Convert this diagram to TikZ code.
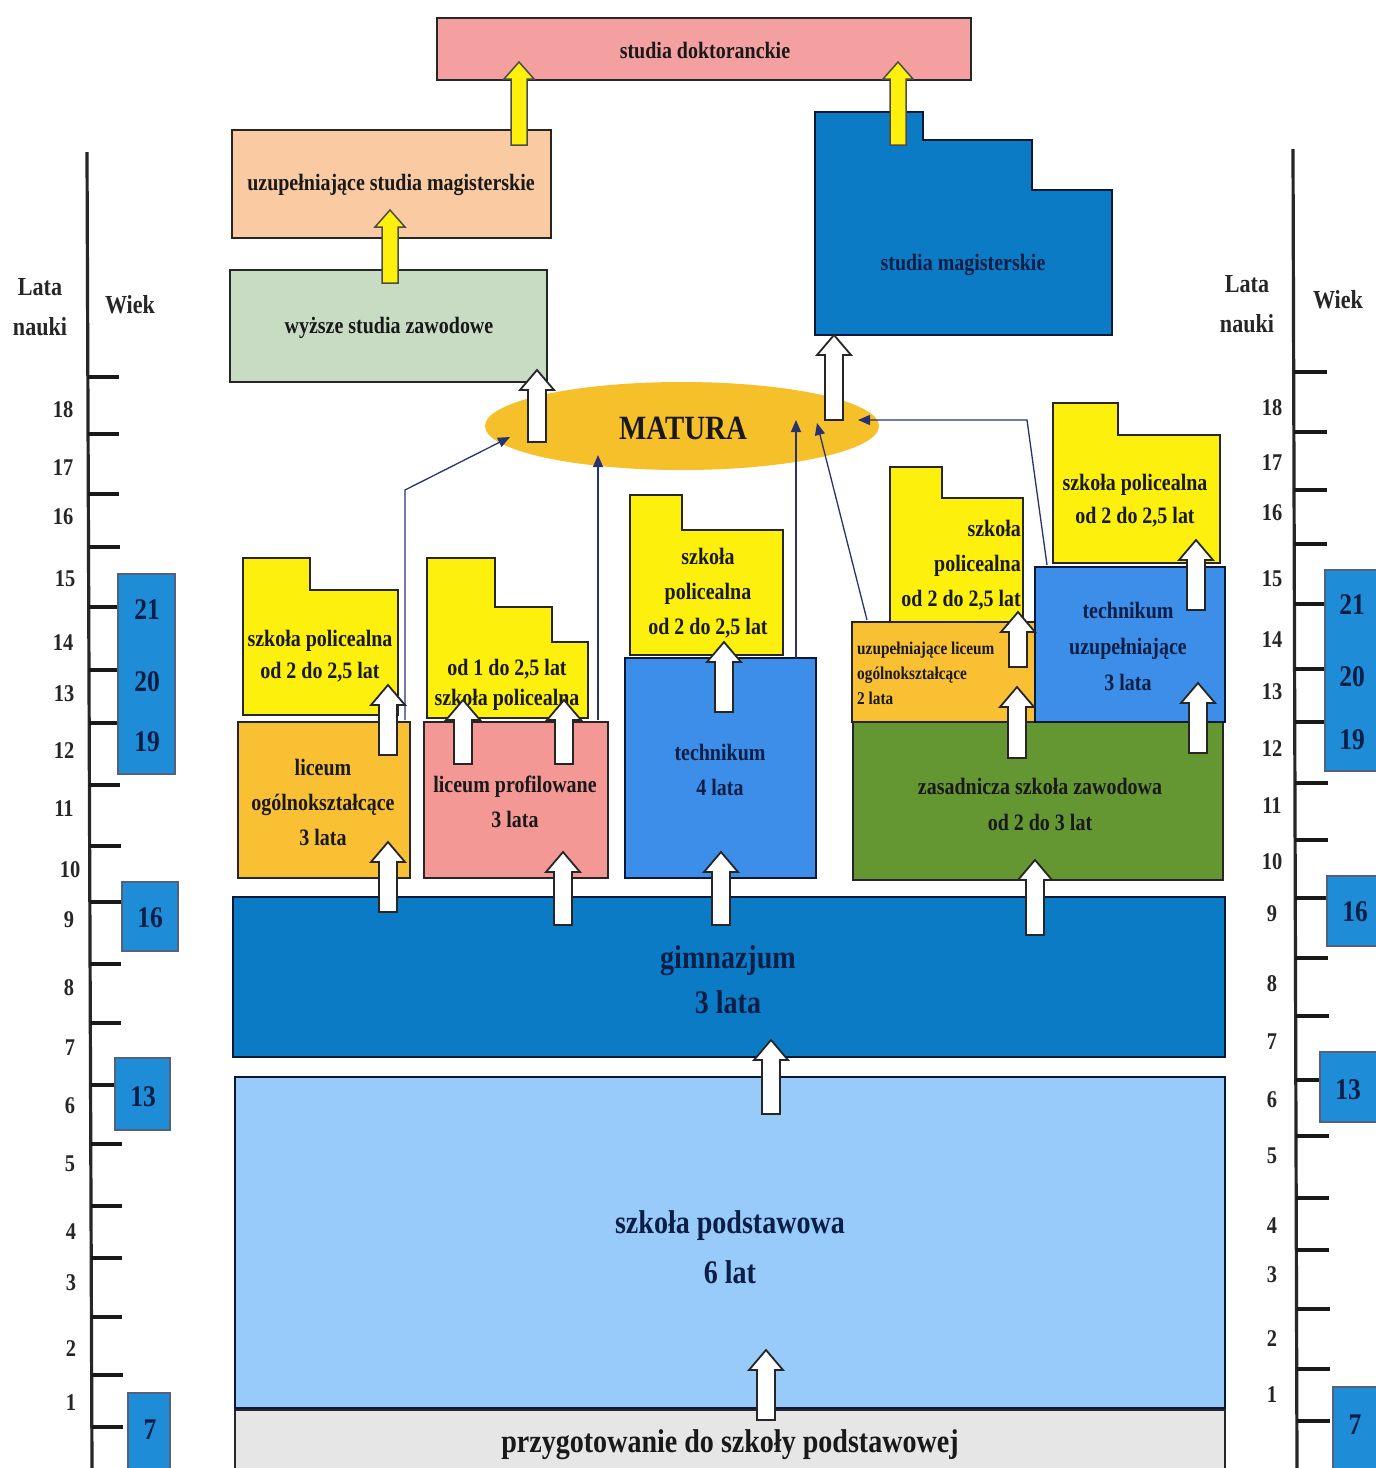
\documentclass[tikz,border=0pt]{standalone}
\usepackage{fontspec}
\setmainfont{Liberation Serif}
\newfontfamily\cf[FakeStretch=0.85]{Liberation Serif}
\usetikzlibrary{arrows.meta}
\definecolor{gimblue}{RGB}{12,123,198}
\definecolor{techblue}{RGB}{60,142,232}
\definecolor{podblue}{RGB}{152,202,250}
\definecolor{agebox}{RGB}{30,140,214}
\definecolor{pinkbox}{RGB}{244,152,150}
\definecolor{doktpink}{RGB}{245,160,160}
\definecolor{peach}{RGB}{250,202,162}
\definecolor{sage}{RGB}{200,220,196}
\definecolor{ylw}{RGB}{252,240,12}
\definecolor{orng}{RGB}{249,192,52}
\definecolor{matura}{RGB}{245,192,42}
\definecolor{grn}{RGB}{100,150,50}
\definecolor{prep}{RGB}{230,230,230}
\definecolor{navy}{RGB}{40,50,110}
\definecolor{inkblue}{RGB}{10,30,70}
\tikzset{
  box/.style={draw=black!85, line width=2pt},
  bluebox/.style={draw=inkblue!80!black, line width=2pt},
  agefill/.style={fill=agebox, draw=inkblue!70, line width=1.2pt},
  fs/.style 2 args={font=\cf\bfseries\fontsize{#1}{#2}\selectfont},
  txt/.style={align=center, inner sep=0pt, text=black!90},
  btxt/.style={align=center, inner sep=0pt, text=inkblue},
  thin/.style={draw=navy, line width=1.3pt, -{Triangle[length=12pt,width=10pt]}},
  warrow/.style={draw=black!85, line width=1.8pt, fill=white},
  yarrow/.style={draw=black!70, line width=1.5pt, fill=ylw},
  scl/.style={line width=3.2pt, draw=black!85},
  tickmark/.style={line width=3.8pt, draw=black!90},
  num/.style={fs={24}{28}, inner sep=0pt, text=black!85},
  agenum/.style={fs={30}{34}, inner sep=0pt, text=inkblue}
}
% block arrow: x, y bottom, y tip, style
\newcommand\blockarr[4]{%
  \draw[#4] ({#1-9},{#2}) -- ({#1-9},{#3+20}) -- ({#1-17},{#3+20}) -- ({#1},{#3})
    -- ({#1+17},{#3+20}) -- ({#1+9},{#3+20}) -- ({#1+9},{#2}) -- cycle;}
\newcommand\yblockarr[3]{%
  \draw[yarrow] ({#1-8},{#2}) -- ({#1-8},{#3+17}) -- ({#1-15},{#3+17}) -- ({#1},{#3})
    -- ({#1+15},{#3+17}) -- ({#1+8},{#3+17}) -- ({#1+8},{#2}) -- cycle;}
\begin{document}
\begin{tikzpicture}[x=1pt,y=-1pt]
\useasboundingbox (0,0) rectangle (1376,1468);
\fill[white] (0,0) rectangle (1376,1468);

% ---------- scales ----------
\draw[scl] (87,152) -- (92,1468);
\foreach \y in {377,434,494,547,607,670,723,785,846,902,964,1023,1085,1144,1206,1258,1317,1375,1427}
  \draw[tickmark] ({87+5*(\y-152)/1316},\y) -- ({118+5*(\y-152)/1316},\y);
\foreach \n/\y/\x in {18/410/63,17/468/63,16/517/63,15/579/65,14/643/63,13/694/64,12/751/64,11/809/64,10/870/70,9/920/69,8/988/69,7/1048/70,6/1106/70,5/1164/70,4/1232/71,3/1283/71,2/1349/71,1/1403/71}
  \node[num] (ln\n) at (\x,\y) {\n};
\node[fs={26}{40}, txt, text=black!85] (llata) at (40,307) {Lata\\nauki};
\node[fs={26}{32}, txt, text=black!85] (lwiek) at (130,305) {Wiek};

\draw[scl] (1293,149) -- (1297,1468);
\foreach \y in {372,432,490,544,604,669,722,783,840,898,958,1016,1080,1136,1198,1250,1309,1369,1421}
  \draw[tickmark] ({1293+4*(\y-149)/1319},\y) -- ({1326+4*(\y-149)/1319},\y);
\foreach \n/\y in {18/408,17/463,16/513,15/579,14/640,13/692,12/749,11/806,10/862,9/914,8/984,7/1042,6/1100,5/1156,4/1226,3/1275,2/1339,1/1395}
  \node[num] (rn\n) at (1272,\y) {\n};
\node[fs={26}{40}, txt, text=black!85] (rlata) at (1247,304) {Lata\\nauki};
\node[fs={26}{32}, txt, text=black!85] (rwiek) at (1338,300) {Wiek};

% age boxes
\draw[agefill] (118,574) rectangle (175,774);
\node[agenum] (la21) at (147,610) {21};
\node[agenum] (la20) at (147,682) {20};
\node[agenum] (la19) at (147,742) {19};
\draw[agefill] (122,882) rectangle (178,951);
\node[agenum] (la16) at (150,918) {16};
\draw[agefill] (115,1058) rectangle (170,1130);
\node[agenum] (la13) at (143,1097) {13};
\draw[agefill] (128,1393) rectangle (170,1470);
\node[agenum] (la7) at (150,1430) {7};

\draw[agefill] (1325,570) rectangle (1378,771);
\node[agenum] (ra21) at (1352,605) {21};
\node[agenum] (ra20) at (1352,677) {20};
\node[agenum] (ra19) at (1352,740) {19};
\draw[agefill] (1327,876) rectangle (1378,946);
\node[agenum] (ra16) at (1355,912) {16};
\draw[agefill] (1320,1052) rectangle (1378,1122);
\node[agenum] (ra13) at (1348,1090) {13};
\draw[agefill] (1333,1387) rectangle (1378,1470);
\node[agenum] (ra7) at (1355,1425) {7};

% ---------- bottom levels ----------
\fill[prep] (235,1410) rectangle (1225,1468);
\draw[box] (235,1468) -- (235,1410) -- (1225,1410) -- (1225,1468);
\node[fs={33}{40}, txt] (prep) at (730,1445) {przygotowanie do szkoły podstawowej};

\draw[bluebox, fill=podblue] (235,1077) rectangle (1225,1408);
\node[fs={33}{50}, btxt] (pod) at (730,1247) {szkoła podstawowa\\6 lat};

\draw[bluebox, fill=gimblue] (233,897) rectangle (1225,1057);
\node[fs={33}{45}, btxt] (gim) at (728,980) {gimnazjum\\3 lata};

% ---------- secondary ----------
\draw[box, fill=orng] (238,722) rectangle (410,878);
\node[fs={23.5}{35}, txt] (lo) at (323,802) {liceum\\ogólnokształcące\\3 lata};

\draw[box, fill=pinkbox] (424,722) rectangle (608,878);
\node[fs={23.5}{35}, txt] (lp) at (515,802) {liceum profilowane\\3 lata};

\draw[bluebox, fill=techblue] (625,658) rectangle (816,878);
\node[fs={23.5}{35}, btxt] (tech) at (720,770) {technikum\\4 lata};

\draw[box, fill=grn] (853,722) rectangle (1223,880);
\node[fs={23.5}{36}, txt] (zsz) at (1040,804) {zasadnicza szkoła zawodowa\\od 2 do 3 lat};

% policealne yellow
\draw[box, fill=ylw] (243,558) -- (310,558) -- (310,590) -- (398,590) -- (398,715) -- (243,715) -- cycle;
\node[fs={23.5}{32}, txt] (pa) at (320,656) {szkoła policealna\\od 2 do 2,5 lat};

\draw[box, fill=ylw] (427,558) -- (495,558) -- (495,607) -- (552,607) -- (552,642) -- (588,642) -- (588,718) -- (427,718) -- cycle;
\node[fs={23.5}{30}, txt] (pb) at (507,685) {od 1 do 2,5 lat\\szkoła policealna};

\draw[box, fill=ylw] (630,495) -- (682,495) -- (682,530) -- (783,530) -- (783,655) -- (630,655) -- cycle;
\node[fs={23.5}{35}, txt] (pc) at (708,593) {szkoła\\policealna\\od 2 do 2,5 lat};

\draw[box, fill=ylw] (890,467) -- (942,467) -- (942,498) -- (1023,498) -- (1023,622) -- (890,622) -- cycle;
\node[fs={23.5}{35}, txt, align=right, anchor=east] (pd) at (1021,565) {szkoła\\policealna\\od 2 do 2,5 lat};

\draw[box, fill=orng] (852,622) rectangle (1035,722);
\node[fs={18}{25}, txt, align=left, anchor=west] (ulo) at (857,673) {uzupełniające liceum\\ogólnokształcące\\2 lata};

\draw[box, fill=ylw] (1053,403) -- (1118,403) -- (1118,435) -- (1220,435) -- (1220,563) -- (1053,563) -- cycle;
\node[fs={23.5}{33}, txt] (pe) at (1135,501) {szkoła policealna\\od 2 do 2,5 lat};

\draw[bluebox, fill=techblue] (1035,567) rectangle (1225,722);
\node[fs={23.5}{36}, btxt] (tu) at (1128,646) {technikum\\uzupełniające\\3 lata};

% ---------- higher ----------
\draw[box, fill=doktpink] (437,18) rectangle (971,80);
\node[fs={23.5}{26}, txt] (dokt) at (705,50) {studia doktoranckie};

\draw[box, fill=peach] (232,130) rectangle (551,238);
\node[fs={23.5}{26}, txt] (usm) at (391,185) {uzupełniające studia magisterskie};

\draw[box, fill=sage] (230,270) rectangle (547,382);
\node[fs={23.5}{26}, txt] (wsz) at (389,328) {wyższe studia zawodowe};

\draw[bluebox, fill=gimblue] (815,112) -- (923,112) -- (923,140) -- (1032,140) -- (1032,190) -- (1112,190) -- (1112,335) -- (815,335) -- cycle;
\node[fs={23.5}{26}, btxt] (sm) at (963,265) {studia magisterskie};

% MATURA
\fill[matura] (682,426) ellipse [x radius=197, y radius=44];
\node[fs={34}{40}, txt] (mat) at (683,428) {MATURA};

% ---------- thin connectors ----------
\coordinate (c1a) at (405,720);
\coordinate (c1b) at (405,490);
\coordinate (c1c) at (510,437);
\coordinate (c2a) at (598,720);
\coordinate (c2b) at (598,455);
\coordinate (c3a) at (796,658);
\coordinate (c3b) at (796,420);
\coordinate (c4a) at (867,620);
\coordinate (c4b) at (817,423);
\coordinate (c5a) at (1047,565);
\coordinate (c5b) at (1027,420);
\coordinate (c5c) at (858,420);
\draw[thin] (c1a) -- (c1b) -- (c1c);
\draw[thin] (c2a) -- (c2b);
\draw[thin] (c3a) -- (c3b);
\draw[thin] (c4a) -- (c4b);
\draw[thin] (c5a) -- (c5b) -- (c5c);

% ---------- white block arrows ----------
\blockarr{537}{442}{370}{warrow}
\blockarr{834}{420}{335}{warrow}
\blockarr{388}{755}{685}{warrow}
\blockarr{463}{764}{700}{warrow}
\blockarr{564}{764}{700}{warrow}
\blockarr{724}{712}{642}{warrow}
\blockarr{1018}{667}{612}{warrow}
\blockarr{1017}{758}{687}{warrow}
\blockarr{1198}{753}{683}{warrow}
\blockarr{1196}{610}{540}{warrow}
\blockarr{388}{912}{842}{warrow}
\blockarr{563}{925}{852}{warrow}
\blockarr{721}{925}{852}{warrow}
\blockarr{1035}{935}{860}{warrow}
\blockarr{771}{1114}{1040}{warrow}
\blockarr{766}{1420}{1350}{warrow}

% ---------- yellow arrows ----------
\yblockarr{519}{145}{62}
\yblockarr{898}{145}{62}
\yblockarr{390}{283}{210}
\end{tikzpicture}
\end{document}
